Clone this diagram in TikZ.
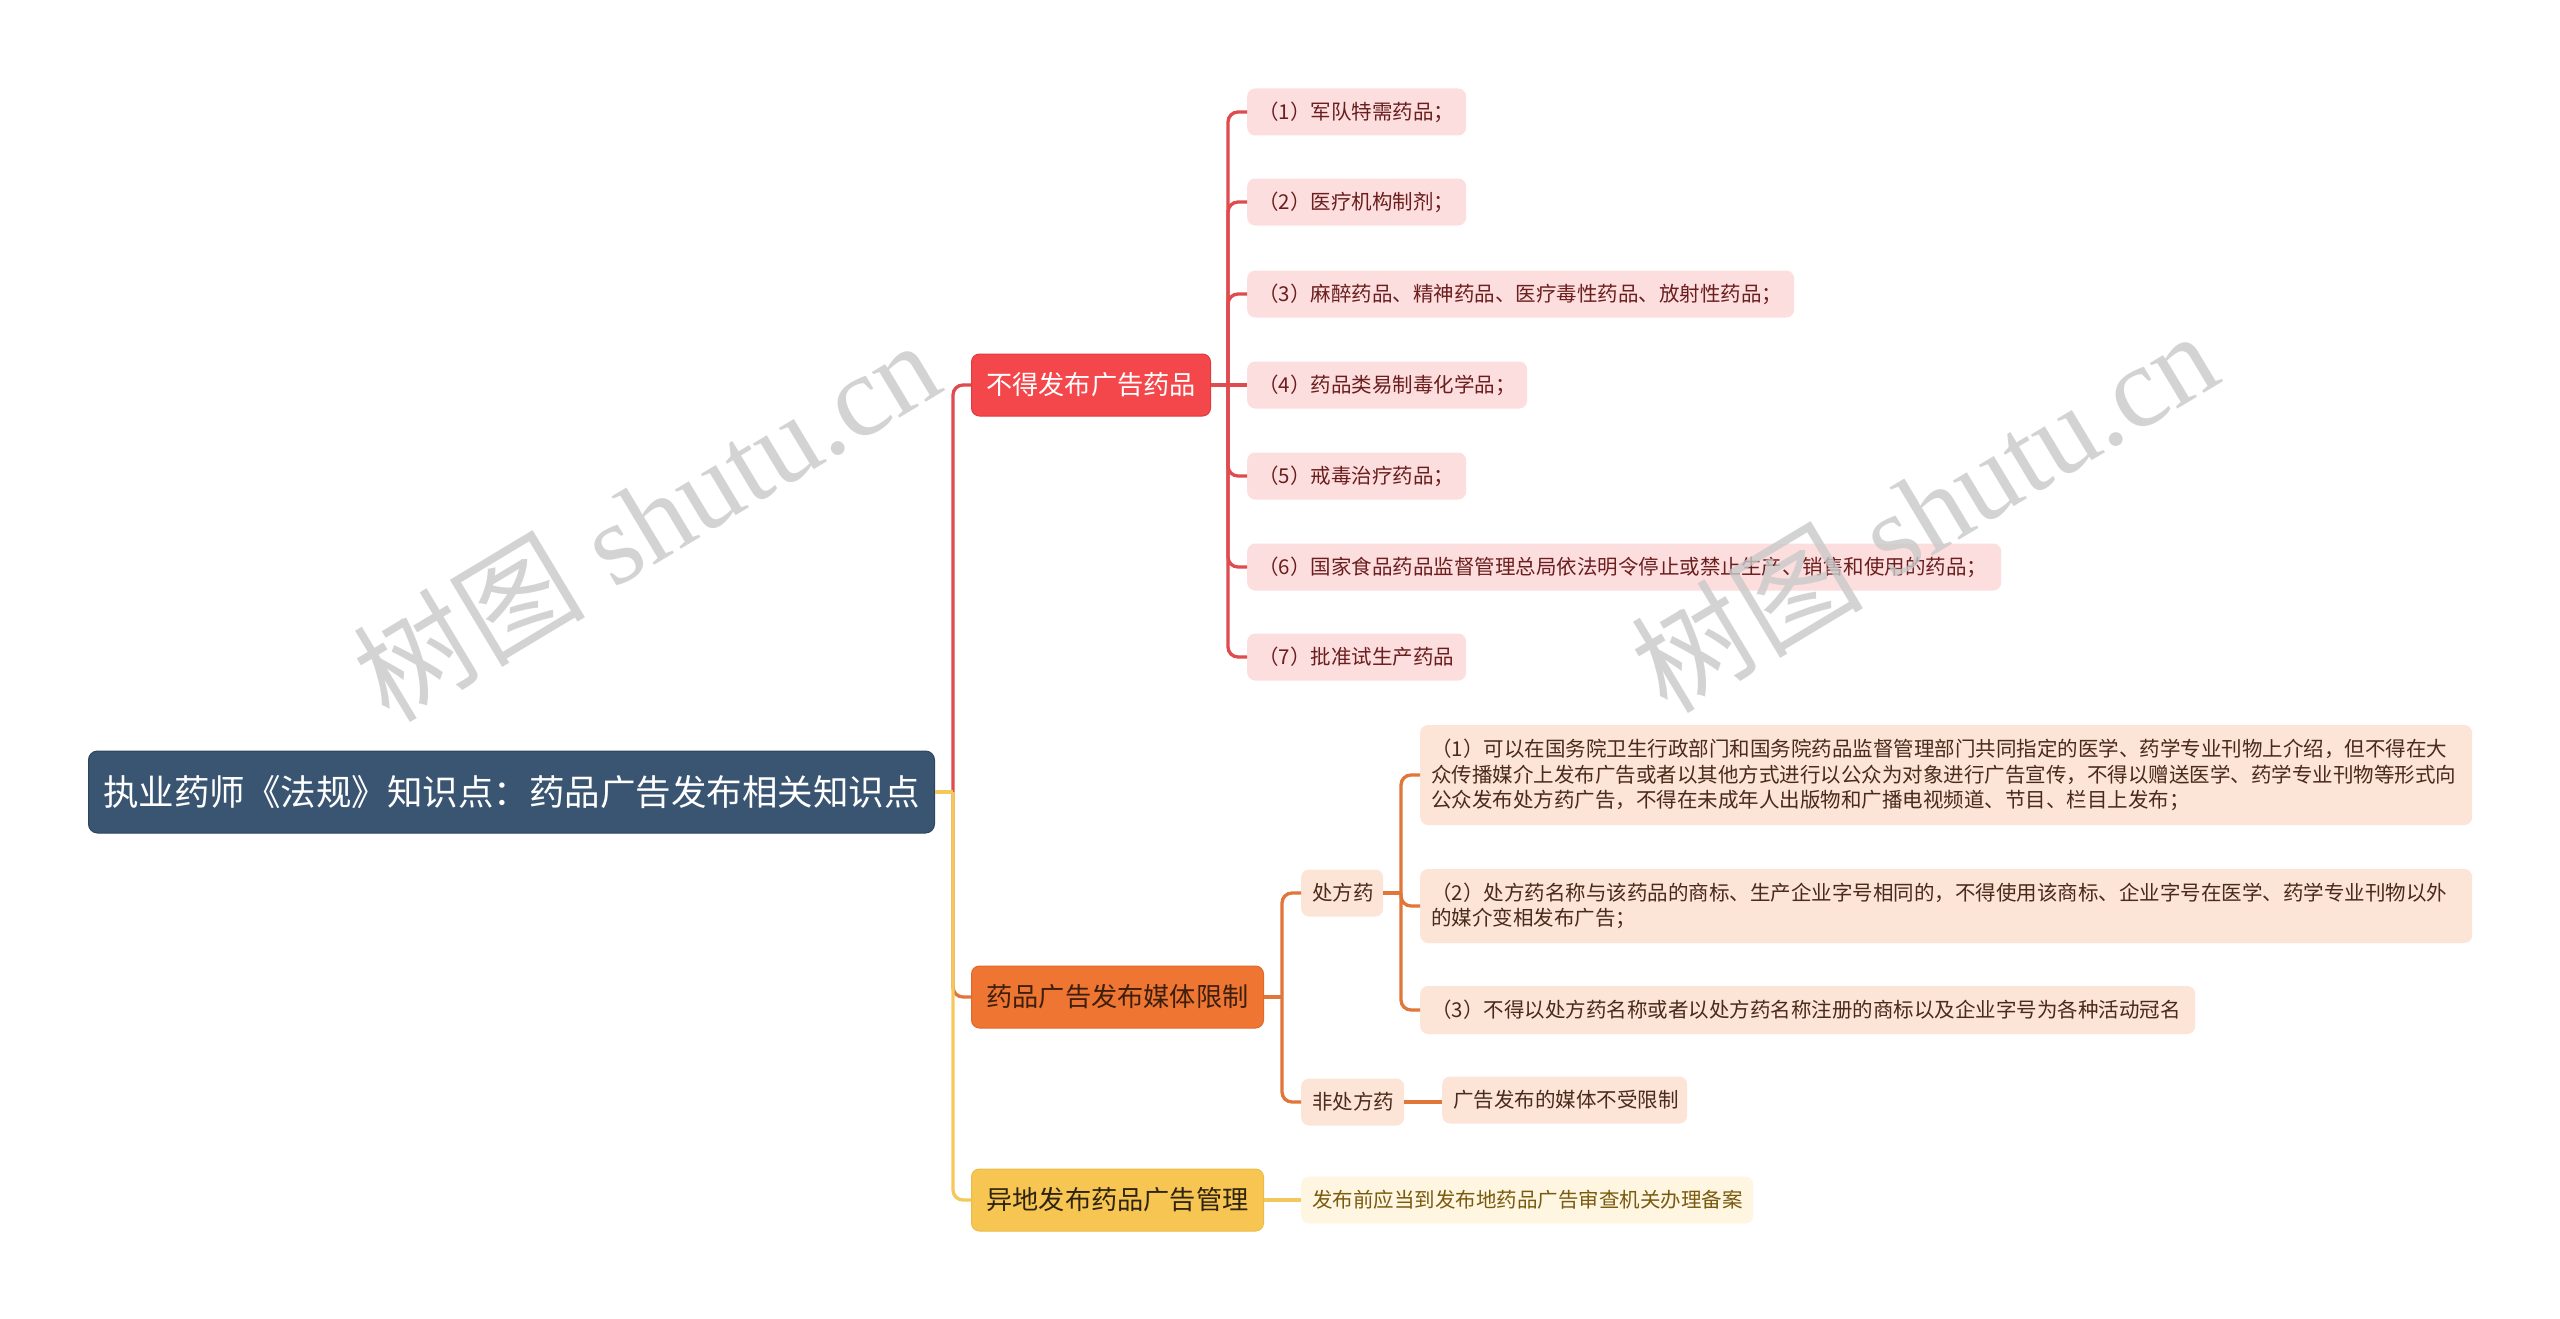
\documentclass[tikz,border=0pt]{standalone}
\usepackage{fontspec}
\setmainfont{Noto Sans CJK SC}
\newfontfamily\wmlat{Liberation Serif}
\newfontfamily\cjk{Noto Sans CJK SC}
\definecolor{rootc}{HTML}{3A5572}
\definecolor{rootd}{HTML}{2C4560}
\definecolor{redc}{HTML}{F4474B}
\definecolor{redd}{HTML}{E03A3E}
\definecolor{redline}{HTML}{E04B4F}
\definecolor{redleaf}{HTML}{FDDEDE}
\definecolor{redtext}{HTML}{6B1E1E}
\definecolor{orgc}{HTML}{EF7532}
\definecolor{orgd}{HTML}{E0692A}
\definecolor{orgline}{HTML}{E0763A}
\definecolor{orgtext}{HTML}{3D1F0E}
\definecolor{orgleaf}{HTML}{FCE4D7}
\definecolor{orgleaftext}{HTML}{4A2A1A}
\definecolor{yelc}{HTML}{F7C652}
\definecolor{yeld}{HTML}{EDBB45}
\definecolor{yelline}{HTML}{F5C85C}
\definecolor{yeltext}{HTML}{2E2410}
\definecolor{yelleaf}{HTML}{FEF6E0}
\definecolor{yelleaftext}{HTML}{7A5A10}
\definecolor{wm}{HTML}{C9C9C9}
\tikzset{
  box/.style={rectangle, anchor=west, inner ysep=0pt},
  rootbox/.style={box, fill=rootc, draw=rootd, line width=1pt, rounded corners=9pt,
    text=white, font=\fontsize{35.5}{40}\selectfont, minimum height=82pt},
  lone/.style={box, line width=1pt, rounded corners=8pt,
    font=\fontsize{26.2}{30}\selectfont, minimum height=62pt},
  redbox/.style={lone, fill=redc, draw=redd, text=white},
  orgbox/.style={lone, fill=orgc, draw=orgd, text=orgtext},
  yelbox/.style={lone, fill=yelc, draw=yeld, text=yeltext},
  leaf/.style={box, rounded corners=8pt, inner xsep=11pt, align=left,
    font=\fontsize{20.5}{25.5}\selectfont, minimum height=47pt},
  redleafbox/.style={leaf, fill=redleaf, text=redtext},
  orgleafbox/.style={leaf, fill=orgleaf, text=orgleaftext},
  yelleafbox/.style={leaf, fill=yelleaf, text=yelleaftext},
  conn/.style={line width=3.3pt, rounded corners=10pt},
  redconn/.style={conn, draw=redline},
  orgconn/.style={conn, draw=orgline},
  yelconn/.style={conn, draw=yelline},
  wmark/.style={text=wm, opacity=0.8, rotate=31, inner sep=0pt}
}
\begin{document}
\begin{tikzpicture}[x=1pt,y=-1pt]
\useasboundingbox (0,0) rectangle (2560,1319);
\fill[white] (0,0) rectangle (2560,1319);

% junction coordinates
\coordinate (t0) at (953,792);
\coordinate (c1) at (1228,385);
\coordinate (c2) at (1282,997);
\coordinate (c3) at (1401,893);

% nodes
\node[rootbox, minimum width=846pt] (root) at (88,792) {执业药师《法规》知识点：药品广告发布相关知识点};
\node[redbox, minimum width=239pt] (red) at (971,385) {不得发布广告药品};
\node[orgbox, minimum width=292pt] (org) at (971,997) {药品广告发布媒体限制};
\node[yelbox, minimum width=292pt] (yel) at (971,1200) {异地发布药品广告管理};

\node[redleafbox, text width=197pt] (r1) at (1247,112) {（1）军队特需药品；};
\node[redleafbox, text width=197pt] (r2) at (1247,202) {（2）医疗机构制剂；};
\node[redleafbox, text width=525pt] (r3) at (1247,294) {（3）麻醉药品、精神药品、医疗毒性药品、放射性药品；};
\node[redleafbox, text width=258pt] (r4) at (1247,385) {（4）药品类易制毒化学品；};
\node[redleafbox, text width=197pt] (r5) at (1247,476) {（5）戒毒治疗药品；};
\node[redleafbox, text width=732pt] (r6) at (1247,567) {（6）国家食品药品监督管理总局依法明令停止或禁止生产、销售和使用的药品；};
\node[redleafbox, text width=197pt] (r7) at (1247,657) {（7）批准试生产药品};

\node[orgleafbox, text width=60pt] (p) at (1301,893) {处方药};
\node[orgleafbox, text width=81pt] (np) at (1301,1102) {非处方药};

\node[orgleafbox, text width=1030pt, minimum height=100pt] (o1) at (1420,775)
  {（1）可以在国务院卫生行政部门和国务院药品监督管理部门共同指定的医学、药学专业刊物上介绍，但不得在大\\
   众传播媒介上发布广告或者以其他方式进行以公众为对象进行广告宣传，不得以赠送医学、药学专业刊物等形式向\\
   公众发布处方药广告，不得在未成年人出版物和广播电视频道、节目、栏目上发布；};
\node[orgleafbox, text width=1030pt, minimum height=74pt] (o2) at (1420,906)
  {（2）处方药名称与该药品的商标、生产企业字号相同的，不得使用该商标、企业字号在医学、药学专业刊物以外\\
   的媒介变相发布广告；};
\node[orgleafbox, text width=753pt, minimum height=48pt] (o3) at (1420,1010)
  {（3）不得以处方药名称或者以处方药名称注册的商标以及企业字号为各种活动冠名};
\node[orgleafbox, text width=223pt] (np1) at (1442,1100) {广告发布的媒体不受限制};
\node[yelleafbox, text width=430pt] (y1) at (1301,1200) {发布前应当到发布地药品广告审查机关办理备案};

% connectors: red branch
\draw[redconn] (t0) |- (red.west);
\draw[redconn] (red.east) -- (c1);
\draw[redconn] (c1) |- (r1.west);
\draw[redconn] (c1) |- (r2.west);
\draw[redconn] (c1) |- (r3.west);
\draw[redconn] (c1) -- (r4.west);
\draw[redconn] (c1) |- (r5.west);
\draw[redconn] (c1) |- (r6.west);
\draw[redconn] (c1) |- (r7.west);

% orange branch
\draw[orgconn] (t0) |- (org.west);
\draw[orgconn] (org.east) -- (c2);
\draw[orgconn] (c2) |- (p.west);
\draw[orgconn] (c2) |- (np.west);
\draw[orgconn] (p.east) -- (c3);
\draw[orgconn] (c3) |- (o1.west);
\draw[orgconn] (c3) |- (o2.west);
\draw[orgconn] (c3) |- (o3.west);
\draw[orgconn] (np.east) -- (np.east -| np1.west);

% yellow branch
\draw[yelconn] (t0) |- (yel.west);
\draw[yelconn] (yel.east) -- (yel.east -| y1.west);
\draw[yelconn] (root.east) -- (t0);

% watermarks
\node[wmark] (wm1) at (646,519) {\fontsize{116}{124}\selectfont\cjk 树图\wmlat{} shutu.cn};
\node[wmark] (wm2) at (1924,510) {\fontsize{116}{124}\selectfont\cjk 树图\wmlat{} shutu.cn};
\end{tikzpicture}
\end{document}
